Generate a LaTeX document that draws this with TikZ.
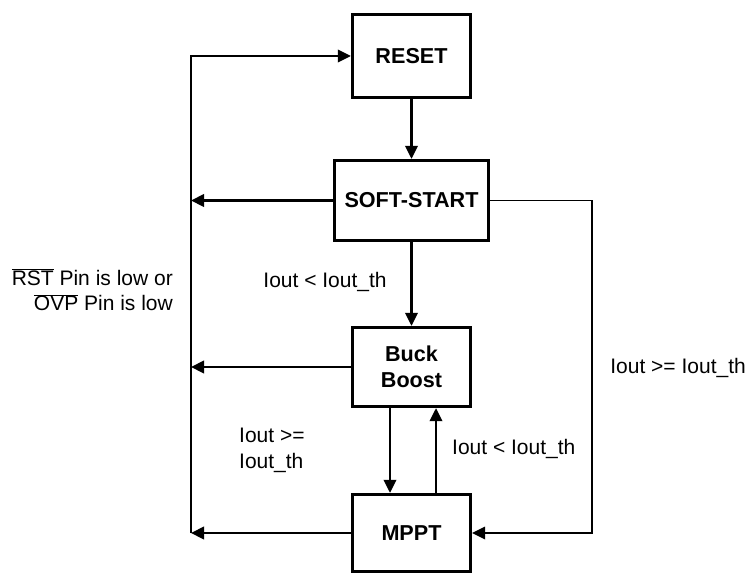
\documentclass[tikz,border=0pt]{standalone}
\usepackage{fontspec}
\setmainfont{Liberation Sans}
\usetikzlibrary{arrows.meta}
\begin{document}
\begin{tikzpicture}[x=1pt,y=-1pt,
  statebox/.style={draw,line width=3.3pt,align=center,font=\fontsize{21.6}{26}\selectfont\bfseries,inner sep=0pt},
  conn/.style={line width=2.2pt},
  arr/.style={conn,-{Triangle[length=13pt,width=12.5pt]}},
  lbl/.style={font=\fontsize{21}{25.5}\selectfont,inner sep=0pt}]
\useasboundingbox (0,0) rectangle (749,575);
\node[statebox,minimum width=118,minimum height=83] (rst) at (411.5,56) {RESET};
\node[statebox,minimum width=154,minimum height=80] (ss) at (411.5,200.5) {SOFT-START};
\node[statebox,minimum width=118,minimum height=79] (bb) at (411.5,367) {Buck\\Boost};
\node[statebox,minimum width=118,minimum height=77] (mp) at (411.5,533) {MPPT};
\coordinate (busTop) at (191,56);
\coordinate (busBot) at (191,533);
\coordinate (rc) at (592,201);
% bus and return to reset
\draw[arr] (busBot) -- (busTop) -- (rst.west);
\draw[arr] (ss.west) -- (ss.west -| busTop);
\draw[arr] (bb.west) -- (bb.west -| busTop);
\draw[arr] (mp.west) -- (mp.west -| busTop);
% main chain
\draw[arr] (rst.south) -- (ss.north);
\draw[arr] (ss.south) -- (bb.north);
\draw[arr] ([xshift=-21.5pt]bb.south) -- ([xshift=-21.5pt]mp.north);
\draw[arr] ([xshift=24.5pt]mp.north) -- ([xshift=24.5pt]bb.south);
% right loop
\draw[arr,line width=1.8pt] (ss.east) -- (ss.east -| rc) |- (mp.east);
% labels
\node[lbl] (l1) at (325,282) {Iout < Iout\_th};
\node[lbl,align=left,anchor=west] (l2) at (239,450.5) {Iout >=\\Iout\_th};
\node[lbl,anchor=west] (l3) at (452,449) {Iout < Iout\_th};
\node[lbl,anchor=east] (l4) at (746,368) {Iout >= Iout\_th};
\node[lbl,align=right,anchor=east] (l5) at (173,290) {\mbox{$\overline{\mbox{RST}}$} Pin is low or\\\mbox{$\overline{\mbox{OVP}}$} Pin is low};
\end{tikzpicture}
\end{document}
